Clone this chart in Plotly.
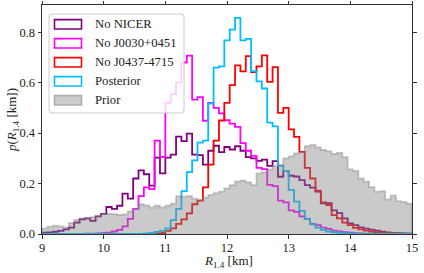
import numpy as np
import plotly.graph_objects as go

# ---------------- data ----------------
R_MIN, R_MAX, N_BINS = 9.0, 15.0, 69
edges = np.linspace(R_MIN, R_MAX, N_BINS + 1)

no_nicer = [0.005, 0.006, 0.009, 0.012, 0.018, 0.025, 0.045, 0.058, 0.062, 0.052,
            0.070, 0.080, 0.107, 0.100, 0.112, 0.160, 0.140, 0.220, 0.252, 0.237,
            0.192, 0.303, 0.240, 0.303, 0.315, 0.386, 0.368, 0.398, 0.315, 0.313,
            0.275, 0.330, 0.350, 0.325, 0.345, 0.335, 0.348, 0.330, 0.305, 0.300,
            0.290, 0.295, 0.270, 0.289, 0.227, 0.250, 0.231, 0.228, 0.214, 0.194,
            0.184, 0.168, 0.122, 0.122, 0.094, 0.083, 0.062, 0.042, 0.035, 0.026,
            0.021, 0.017, 0.013, 0.009, 0.006, 0.004, 0.003, 0.002, 0.001]

no_j0030 = [0.0, 0.0, 0.0, 0.0, 0.0, 0.0, 0.0, 0.0, 0.001, 0.001,
            0.002, 0.003, 0.005, 0.010, 0.016, 0.030, 0.060, 0.100, 0.150, 0.185,
            0.178, 0.370, 0.306, 0.520, 0.555, 0.600, 0.680, 0.707, 0.533, 0.543,
            0.449, 0.520, 0.500, 0.478, 0.451, 0.438, 0.425, 0.360, 0.330, 0.310,
            0.262, 0.257, 0.195, 0.190, 0.132, 0.125, 0.094, 0.088, 0.070, 0.060,
            0.040, 0.035, 0.025, 0.020, 0.013, 0.010, 0.007, 0.005, 0.003, 0.002,
            0.001, 0.001, 0.001, 0.0, 0.0, 0.0, 0.0, 0.0, 0.0]

no_j0437 = [0.0, 0.0, 0.0, 0.0, 0.0, 0.0, 0.0, 0.0, 0.0, 0.0,
            0.0, 0.0, 0.0, 0.0, 0.0, 0.0, 0.0, 0.0, 0.0, 0.0,
            0.0, 0.0, 0.004, 0.012, 0.022, 0.040, 0.058, 0.082, 0.118, 0.132,
            0.185, 0.275, 0.370, 0.450, 0.520, 0.590, 0.669, 0.645, 0.705, 0.642,
            0.665, 0.708, 0.603, 0.662, 0.480, 0.500, 0.415, 0.385, 0.326, 0.262,
            0.220, 0.172, 0.125, 0.115, 0.075, 0.062, 0.045, 0.035, 0.024, 0.018,
            0.013, 0.010, 0.007, 0.005, 0.004, 0.003, 0.002, 0.001, 0.001]

posterior = [0.0, 0.0, 0.0, 0.0, 0.0, 0.0, 0.0, 0.0, 0.0, 0.0,
             0.0, 0.0, 0.0, 0.0, 0.0, 0.0, 0.0, 0.0, 0.0, 0.002,
             0.004, 0.008, 0.012, 0.022, 0.055, 0.100, 0.170, 0.245, 0.292, 0.362,
             0.370, 0.517, 0.660, 0.665, 0.768, 0.810, 0.857, 0.768, 0.774, 0.646,
             0.605, 0.577, 0.442, 0.427, 0.270, 0.250, 0.175, 0.128, 0.092, 0.060,
             0.038, 0.025, 0.016, 0.010, 0.007, 0.005, 0.003, 0.002, 0.001, 0.0,
             0.0, 0.0, 0.0, 0.0, 0.0, 0.0, 0.0, 0.0, 0.0]

prior = [0.022, 0.029, 0.033, 0.030, 0.026, 0.044, 0.056, 0.062, 0.062, 0.067,
         0.070, 0.080, 0.080, 0.079, 0.075, 0.078, 0.090, 0.100, 0.118, 0.113,
         0.105, 0.112, 0.105, 0.112, 0.120, 0.150, 0.148, 0.150, 0.140, 0.135,
         0.145, 0.155, 0.162, 0.168, 0.181, 0.194, 0.208, 0.212, 0.205, 0.194,
         0.240, 0.245, 0.255, 0.270, 0.275, 0.300, 0.308, 0.320, 0.325, 0.348,
         0.353, 0.343, 0.333, 0.328, 0.318, 0.322, 0.305, 0.256, 0.250, 0.220,
         0.208, 0.186, 0.168, 0.170, 0.137, 0.153, 0.130, 0.127, 0.120]

x_ticks = [9, 10, 11, 12, 13, 14, 15]
y_ticks = [0.0, 0.2, 0.4, 0.6, 0.8]
y_ticktext = ["0.0", "0.2", "0.4", "0.6", "0.8"]
x_title = "<i>R</i><sub>1.4</sub> [km]"
y_title = "<i>p</i>(<i>R</i><sub>1.4</sub> [km])"

series = [
    ("No NICER", no_nicer, "#800080"),
    ("No J0030+0451", no_j0030, "#ff00ff"),
    ("No J0437-4715", no_j0437, "#ff0000"),
    ("Posterior", posterior, "#00bfff"),
]
PRIOR_NAME = "Prior"
PRIOR_FILL = "rgba(128,128,128,0.42)"

# ---------------- figure ----------------
W, H = 424, 273
ML, MR, MT, MB = 42, 12, 5, 39
PW, PH = W - ML - MR, H - MT - MB
FONT = "Liberation Serif"


def step_xy(vals):
    x = [edges[0]] + list(edges) + [edges[-1]]
    y = [0.0] + list(vals) + [vals[-1], 0.0]
    return x, y


fig = go.Figure()
for name, vals, col in series:
    sx, sy = step_xy(vals)
    fig.add_trace(go.Scatter(x=sx, y=sy, mode="lines", line_shape="hv",
                             line=dict(color=col, width=1.8), name=name,
                             showlegend=False, hoverinfo="skip"))
sx, sy = step_xy(prior)
fig.add_trace(go.Scatter(x=sx, y=sy, mode="lines", line_shape="hv", fill="tozeroy",
                         fillcolor=PRIOR_FILL, line=dict(color=PRIOR_FILL, width=1.8),
                         name=PRIOR_NAME, showlegend=False, hoverinfo="skip"))


# ---------------- custom matplotlib-like legend ----------------
def px(xp):
    return (xp - ML) / PW


def py(yp):
    return (MT + PH - yp) / PH


bx0, bx1, by0, by1 = 49, 184, 14, 113
r = 3
path = (f"M{px(bx0 + r)},{py(by0)} L{px(bx1 - r)},{py(by0)} Q{px(bx1)},{py(by0)} {px(bx1)},{py(by0 + r)} "
        f"L{px(bx1)},{py(by1 - r)} Q{px(bx1)},{py(by1)} {px(bx1 - r)},{py(by1)} "
        f"L{px(bx0 + r)},{py(by1)} Q{px(bx0)},{py(by1)} {px(bx0)},{py(by1 - r)} "
        f"L{px(bx0)},{py(by0 + r)} Q{px(bx0)},{py(by0)} {px(bx0 + r)},{py(by0)} Z")
shapes = [dict(type="path", xref="paper", yref="paper", path=path,
               fillcolor="rgba(255,255,255,0.8)", line=dict(color="#cccccc", width=1),
               layer="above")]
annotations = []
legend_items = [(n, c, None) for n, _, c in series] + [(PRIOR_NAME, "#aeaeae", "#cccccc")]
row_y0, row_dy = 24.3, 19.0
for i, (name, col, fillc) in enumerate(legend_items):
    cy = row_y0 + i * row_dy
    shapes.append(dict(type="rect", xref="paper", yref="paper",
                       x0=px(54.5), x1=px(81.5), y0=py(cy + 4.7), y1=py(cy - 4.7),
                       line=dict(color=col, width=1.6),
                       fillcolor=fillc if fillc else "rgba(0,0,0,0)", layer="above"))
    annotations.append(dict(xref="paper", yref="paper", x=px(93), y=py(cy),
                            text=name, showarrow=False, xanchor="left", yanchor="middle",
                            font=dict(family=FONT, size=12.7, color="#222222")))

# axis titles placed like matplotlib's
annotations.append(dict(xref="paper", yref="paper", x=px(228), y=py(261.5), text=x_title,
                        showarrow=False, xanchor="center", yanchor="middle",
                        font=dict(family=FONT, size=13, color="#222222")))
annotations.append(dict(xref="paper", yref="paper", x=px(13), y=py(120), text=y_title,
                        showarrow=False, xanchor="center", yanchor="middle", textangle=-90,
                        font=dict(family=FONT, size=13, color="#222222")))

axis_common = dict(showline=True, linecolor="#333333", linewidth=1, mirror="ticks",
                   ticks="outside", ticklen=3.5, tickwidth=1, tickcolor="#333333",
                   showgrid=False, zeroline=False,
                   tickfont=dict(family=FONT, size=12.5, color="#222222"))

fig.update_layout(
    width=W, height=H, margin=dict(l=ML, r=MR, t=MT, b=MB, autoexpand=False),
    paper_bgcolor="white", plot_bgcolor="white",
    showlegend=False, shapes=shapes, annotations=annotations,
    xaxis=dict(range=[R_MIN, R_MAX], tickvals=x_ticks, ticklabelstandoff=-2, **axis_common),
    yaxis=dict(range=[0, 0.908], tickvals=y_ticks, ticktext=y_ticktext, **axis_common),
)

fig.write_html("out.html", config={"displayModeBar": False, "staticPlot": True},
               post_script="document.body.style.margin='0';document.body.style.overflow='hidden';")
